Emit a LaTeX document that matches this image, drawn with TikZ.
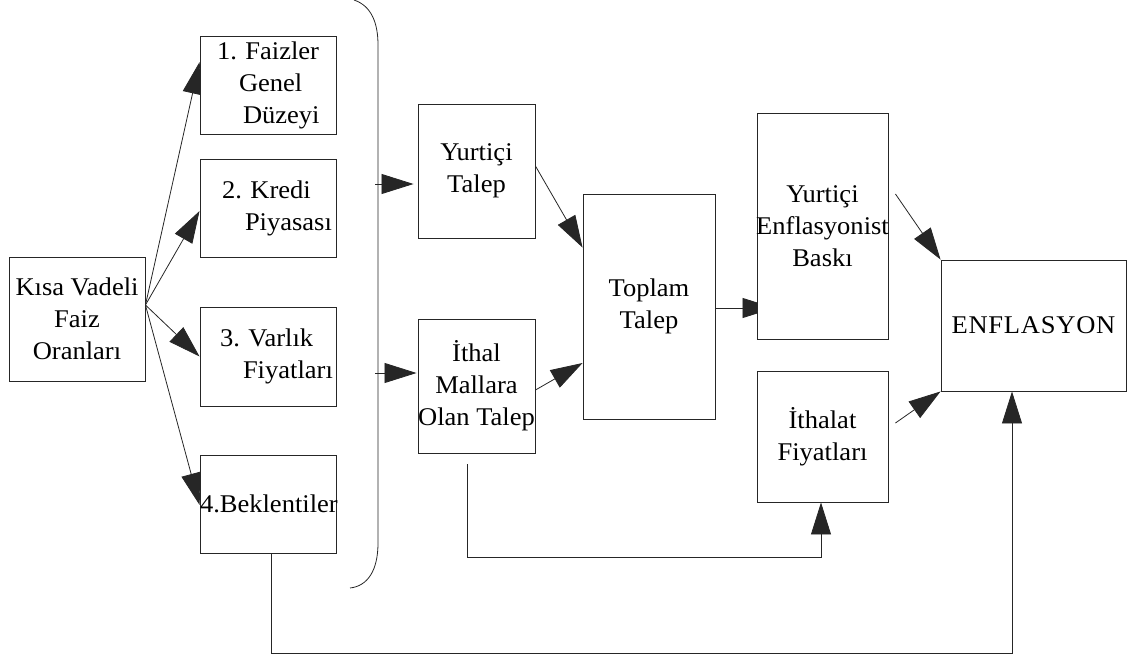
\documentclass[tikz,border=0pt]{standalone}
\usepackage{fontspec}
\setmainfont{Liberation Serif}[FakeStretch=1.04]
\usetikzlibrary{arrows.meta,backgrounds,calc}
\begin{document}
\frenchspacing
\begin{tikzpicture}[x=1pt,y=-1pt,
 box/.style={draw=black!85, line width=0.9pt, fill=white, inner xsep=-4pt, inner ysep=0pt, font=\fontsize{25.5}{32}\selectfont, align=center},
 lbox/.style={box, text width=136pt, inner xsep=0pt, align=left, minimum height=98pt},
 arr/.style={draw=black!85, line width=0.8pt, -{Triangle[length=32pt,width=20pt]}},
 ln/.style={draw=black!85, line width=0.8pt}]
\useasboundingbox (0,0) rectangle (1136,659);

\node[box, minimum width=136pt, minimum height=124pt] (kisa) at (77,319) {Kısa Vadeli\\Faiz\\Oranları};
\node[lbox] (b1) at (268,85) {\hspace*{17pt}1. Faizler\\\hspace*{39pt}Genel\\\hspace*{43pt}Düzeyi};
\node[lbox] (b2) at (268,208) {\hspace*{22pt}2. Kredi\\\hspace*{45pt}Piyasası};
\node[lbox, minimum height=99pt] (b3) at (268,356.5) {\hspace*{20pt}3. Varlık\\\hspace*{43pt}Fiyatları};
\node[lbox] (b4) at (268,504) {4.Beklentiler};
\node[box, minimum width=117pt, minimum height=134pt] (yt) at (476.5,171) {Yurtiçi\\Talep};
\node[box, minimum width=117pt, minimum height=134pt] (im) at (476.5,386) {İthal\\Mallara\\Olan Talep};
\node[box, minimum width=132pt, minimum height=225pt] (tt) at (649,306.5) {Toplam\\Talep};
\node[box, minimum width=131pt, minimum height=226pt] (ye) at (822.5,226) {Yurtiçi\\Enflasyonist\\Baskı};
\node[box, minimum width=131pt, minimum height=131pt] (it) at (822.5,436.5) {İthalat\\Fiyatları};
\node[box, minimum width=185pt, minimum height=131pt] (enf) at (1033.5,325.5) {\addfontfeature{LetterSpace=3}ENFLASYON};

% bracket
\draw[ln] (354,0) .. controls (372,6) and (378,24) .. (378,45) -- (378,543) .. controls (378,570) and (368,586) .. (350,588);
\coordinate (br1) at (375,184);
\coordinate (br2) at (375,373);
\coordinate (fan) at ([yshift=14pt]kisa.east);

\begin{scope}[on background layer]
\draw[arr] (fan) -- ([yshift=23pt]b1.west);
\draw[arr] (fan) -- ([yshift=-3pt]b2.west);
\draw[arr] (fan) -- (b3.west);
\draw[arr] (fan) -- ([yshift=-1pt]b4.west);
\draw[arr, shorten >=4pt] (br1) -- (br1 -| yt.west);
\draw[arr, shorten >=1pt] (br2) -- (br2 -| im.west);
\draw[arr] ([yshift=5pt]yt.east) -- ([yshift=-54pt]tt.north west);
\draw[arr] ([yshift=-4pt]im.east) -- ([yshift=-56.5pt]tt.west);
\draw[arr] ([yshift=-1.5pt]tt.east) -- ($([yshift=-1.5pt]tt.east -| ye.west)+(18,0)$);
\draw[arr] ([shift={(7,-32)}]ye.east) -- (enf.north west);
\draw[arr] ([shift={(7,-13.5)}]it.east) -- (enf.south west);
\draw[arr] ([shift={(-9.5,11)}]im.south) -- ++(0,93) -| ([xshift=-1.5pt]it.south);
\draw[arr] ([xshift=3pt]b4.south) -- ++(0,100) -| ([xshift=-21.5pt]enf.south);
\end{scope}
\end{tikzpicture}
\end{document}
